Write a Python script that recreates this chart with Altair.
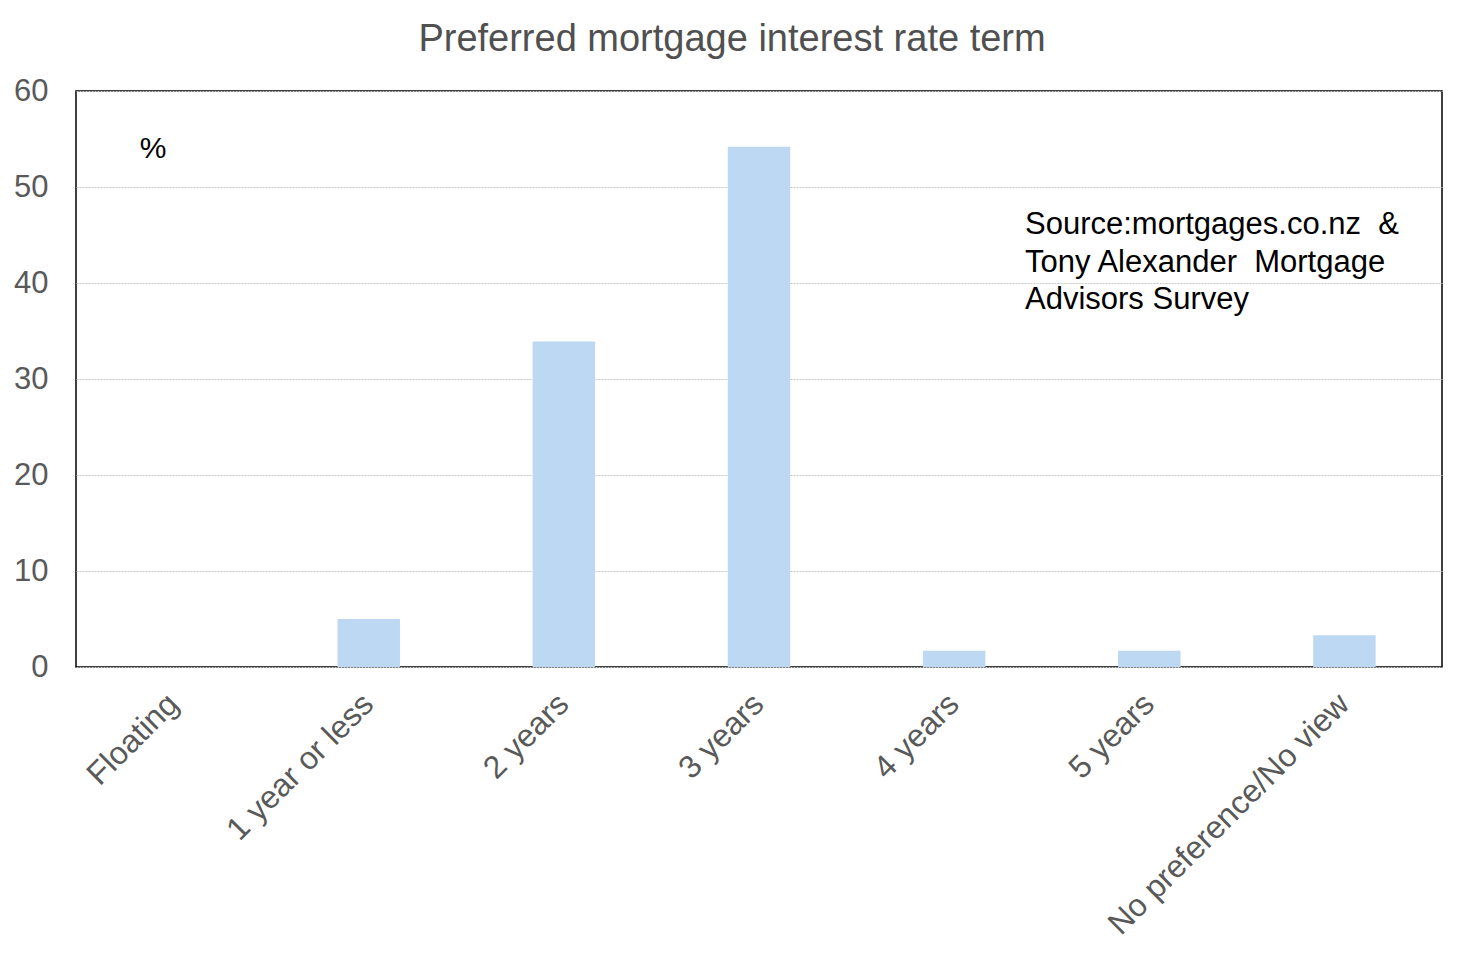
import altair as alt
import pandas as pd

categories = ["Floating", "1 year or less", "2 years", "3 years", "4 years", "5 years", "No preference/No view"]
values = [0.0, 5.0, 33.9, 54.2, 1.7, 1.7, 3.3]
y_ticks = [0, 10, 20, 30, 40, 50, 60]
title_text = "Preferred mortgage interest rate term"
unit_text = "%"
source_lines = ["Source:mortgages.co.nz \u00a0&", "Tony Alexander \u00a0Mortgage", "Advisors Survey"]

df = pd.DataFrame({"term": categories, "pct": values})
FONT = "Liberation Sans"

bars = alt.Chart(df).mark_bar(color="#BDD8F3").encode(
    x=alt.X("term:N", sort=categories,
            scale=alt.Scale(paddingInner=0.68, paddingOuter=0.34),
            axis=alt.Axis(title=None, labelAngle=-45, labelFontSize=32, labelColor="#595959",
                          labelFont=FONT, ticks=False, domain=False, labelPadding=21,
                          labelOffset=-11, labelLimit=0, grid=False)),
    y=alt.Y("pct:Q", scale=alt.Scale(domain=[0, 60]),
            axis=alt.Axis(title=None, values=y_ticks, labelFontSize=31, labelColor="#595959",
                          labelFont=FONT, ticks=False, domain=False, labelPadding=28,
                          grid=True, gridColor="#C8C8C8", gridDash=[2, 1], gridWidth=1)),
)

one = pd.DataFrame({"k": [0]})
unit = alt.Chart(one).mark_text(text=unit_text, font=FONT, fontSize=30, color="#000000",
                                align="center", baseline="middle").encode(
    x=alt.value(77), y=alt.value(58))

source = alt.Chart(one).mark_text(text=source_lines, font=FONT, fontSize=31, color="#000000",
                                  align="left", baseline="alphabetic", lineHeight=37.5).encode(
    x=alt.value(949), y=alt.value(143))

chart = alt.layer(bars, unit, source).properties(
    width=1366, height=576,
    padding={"left": 5, "top": 13, "right": 5, "bottom": 5},
    title=alt.TitleParams(title_text, font=FONT, fontSize=38, color="#505050",
                          fontWeight="normal", anchor="middle", frame="group", dx=-27, offset=16),
).configure(background="white").configure_view(stroke="#000000", strokeWidth=1.5)

chart.save("out.html", embed_options={"renderer": "svg", "actions": False})
